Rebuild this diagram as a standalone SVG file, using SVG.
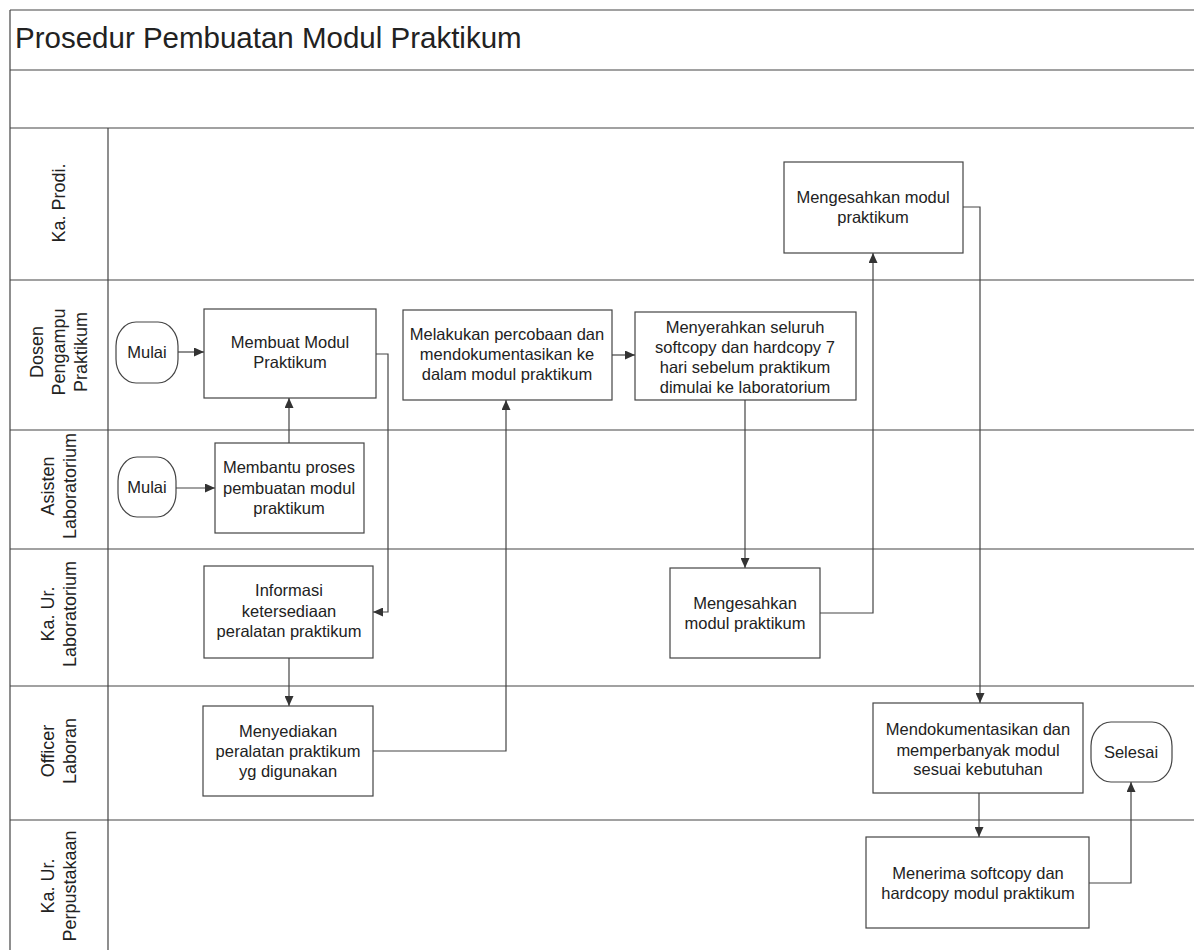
<svg xmlns="http://www.w3.org/2000/svg" width="1194" height="950" viewBox="0 0 1194 950">
<defs>
<marker id="ah" markerWidth="10" markerHeight="9" refX="10" refY="4.5" orient="auto" markerUnits="userSpaceOnUse">
<path d="M0,0 L10,4.5 L0,9 z" fill="#333"/>
</marker>
<style>
.grid{stroke:#444;stroke-width:1.2;fill:none}
.box{fill:#fff;stroke:#444;stroke-width:1.2}
.t{font-family:"Liberation Sans",Arial,sans-serif;font-size:16.5px;fill:#222;text-anchor:middle}
.lbl{font-family:"Liberation Sans",Arial,sans-serif;font-size:18px;fill:#222;text-anchor:middle}
.title{font-family:"Liberation Sans",Arial,sans-serif;font-size:29.5px;fill:#222}
.conn{stroke:#444;stroke-width:1.2;fill:none;marker-end:url(#ah)}
</style>
</defs>
<rect width="1194" height="950" fill="#fff"/>
<g id="frame">
<line class="grid" x1="10" y1="10" x2="1194" y2="10"/>
<line class="grid" x1="10" y1="70" x2="1194" y2="70"/>
<line class="grid" x1="10" y1="128" x2="1194" y2="128"/>
<line class="grid" x1="10" y1="280" x2="1194" y2="280"/>
<line class="grid" x1="10" y1="430" x2="1194" y2="430"/>
<line class="grid" x1="10" y1="549" x2="1194" y2="549"/>
<line class="grid" x1="10" y1="686" x2="1194" y2="686"/>
<line class="grid" x1="10" y1="820" x2="1194" y2="820"/>
<line class="grid" x1="10" y1="10" x2="10" y2="950"/>
<line class="grid" x1="108" y1="128" x2="108" y2="950"/>
<text class="title" x="15" y="48">Prosedur Pembuatan Modul Praktikum</text>
</g>
<g id="lane-labels">
<text class="lbl" transform="translate(65,203) rotate(-90)">Ka. Prodi.</text>
<text class="lbl" transform="translate(43,352) rotate(-90)">Dosen</text>
<text class="lbl" transform="translate(65,352) rotate(-90)">Pengampu</text>
<text class="lbl" transform="translate(87,352) rotate(-90)">Praktikum</text>
<text class="lbl" transform="translate(54,486) rotate(-90)">Asisten</text>
<text class="lbl" transform="translate(76,486) rotate(-90)">Laboratorium</text>
<text class="lbl" transform="translate(54,614) rotate(-90)">Ka. Ur.</text>
<text class="lbl" transform="translate(76,614) rotate(-90)">Laboratorium</text>
<text class="lbl" transform="translate(54,751) rotate(-90)">Officer</text>
<text class="lbl" transform="translate(76,751) rotate(-90)">Laboran</text>
<text class="lbl" transform="translate(54,886) rotate(-90)">Ka. Ur.</text>
<text class="lbl" transform="translate(76,886) rotate(-90)">Perpustakaan</text>
</g>
<g id="connectors">
<path class="conn" d="M178,352 L204,352"/>
<path class="conn" d="M176,488 L215,488"/>
<path class="conn" d="M289,443 L289,398"/>
<path class="conn" d="M376,354 L388,354 L388,612 L373,612"/>
<path class="conn" d="M289,658 L289,706"/>
<path class="conn" d="M373,751 L506,751 L506,400"/>
<path class="conn" d="M612,355 L635,355"/>
<path class="conn" d="M745,400 L745,568"/>
<path class="conn" d="M820,613 L873,613 L873,253"/>
<path class="conn" d="M963,207 L980,207 L980,703"/>
<path class="conn" d="M979,793 L979,837"/>
<path class="conn" d="M1089,883 L1131,883 L1131,782"/>
</g>
<g id="mulai-dosen">
<rect class="box" x="116" y="322" width="62" height="61" rx="20" ry="24"/>
<text class="t" x="147" y="358">Mulai</text>
</g>
<g id="membuat-modul">
<rect class="box" x="204" y="309" width="172" height="89"/>
<text class="t" x="290" y="348">Membuat Modul</text>
<text class="t" x="290" y="368">Praktikum</text>
</g>
<g id="melakukan-percobaan">
<rect class="box" x="403" y="310" width="209" height="90"/>
<text class="t" x="507" y="340">Melakukan percobaan dan</text>
<text class="t" x="507" y="360">mendokumentasikan ke</text>
<text class="t" x="507" y="380">dalam modul praktikum</text>
</g>
<g id="menyerahkan">
<rect class="box" x="635" y="312" width="221" height="88"/>
<text class="t" x="745" y="333">Menyerahkan seluruh</text>
<text class="t" x="745" y="353">softcopy dan hardcopy 7</text>
<text class="t" x="745" y="373">hari sebelum praktikum</text>
<text class="t" x="745" y="393">dimulai ke laboratorium</text>
</g>
<g id="mengesahkan-kaprodi">
<rect class="box" x="784" y="162" width="179" height="91"/>
<text class="t" x="873" y="203">Mengesahkan modul</text>
<text class="t" x="873" y="223">praktikum</text>
</g>
<g id="mulai-asisten">
<rect class="box" x="118" y="457" width="58" height="60" rx="19" ry="24"/>
<text class="t" x="147" y="493">Mulai</text>
</g>
<g id="membantu">
<rect class="box" x="215" y="443" width="149" height="90"/>
<text class="t" x="289" y="473">Membantu proses</text>
<text class="t" x="289" y="494">pembuatan modul</text>
<text class="t" x="289" y="514">praktikum</text>
</g>
<g id="informasi">
<rect class="box" x="204" y="566" width="169" height="92"/>
<text class="t" x="289" y="596">Informasi</text>
<text class="t" x="289" y="617">ketersediaan</text>
<text class="t" x="289" y="637">peralatan praktikum</text>
</g>
<g id="mengesahkan-kaur">
<rect class="box" x="670" y="568" width="150" height="90"/>
<text class="t" x="745" y="609">Mengesahkan</text>
<text class="t" x="745" y="629">modul praktikum</text>
</g>
<g id="menyediakan">
<rect class="box" x="203" y="706" width="170" height="90"/>
<text class="t" x="288" y="737">Menyediakan</text>
<text class="t" x="288" y="757">peralatan praktikum</text>
<text class="t" x="288" y="777">yg digunakan</text>
</g>
<g id="mendokumentasikan">
<rect class="box" x="873" y="703" width="210" height="90"/>
<text class="t" x="978" y="735">Mendokumentasikan dan</text>
<text class="t" x="978" y="756">memperbanyak modul</text>
<text class="t" x="978" y="775">sesuai kebutuhan</text>
</g>
<g id="selesai">
<rect class="box" x="1091" y="722" width="81" height="60" rx="20" ry="24"/>
<text class="t" x="1131" y="758">Selesai</text>
</g>
<g id="menerima">
<rect class="box" x="866" y="837" width="223" height="91"/>
<text class="t" x="978" y="879">Menerima softcopy dan</text>
<text class="t" x="978" y="899">hardcopy modul praktikum</text>
</g>
</svg>
